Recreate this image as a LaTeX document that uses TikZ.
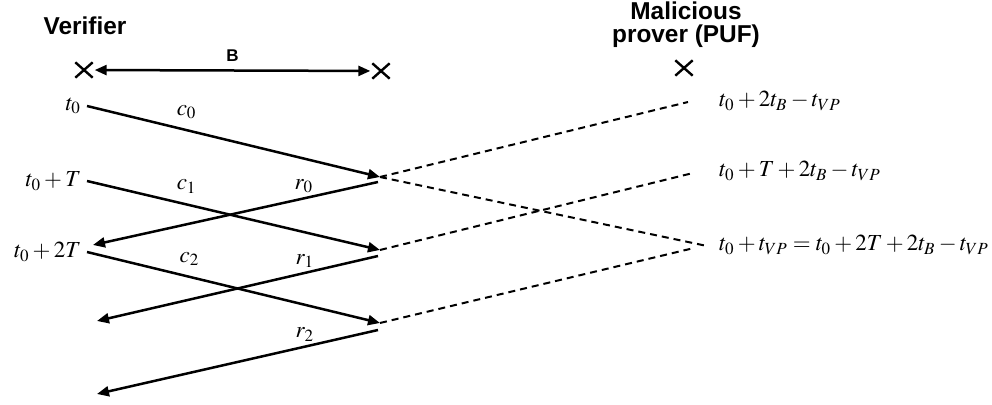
\documentclass[tikz,border=0pt]{standalone}
\usepackage{mathptmx}
\usepackage{fontspec}
\setsansfont{Liberation Sans}
\usetikzlibrary{arrows.meta,shapes.misc}

\begin{document}
\begin{tikzpicture}[x=0.5pt,y=-0.5pt,-{Triangle[length=6pt,width=5pt]},line width=1.25pt,
    time node/.style={font=\fontsize{11.5}{13}\selectfont,inner sep=0pt},
    head node/.style={font=\fontsize{12.2}{11.5}\selectfont\sffamily\bfseries,align=center,inner sep=0pt},
    mark node/.style={-,draw,cross out,line width=1.2pt,minimum width=7.5pt,minimum height=6.5pt,inner sep=0pt},
    lab/.style={font=\fontsize{11.5}{13}\selectfont,inner sep=0pt},
    guess/.style={-,line width=1pt,dash pattern=on 3.5pt off 2.5pt}]
	\useasboundingbox (0,0) rectangle (992,405);

	% parties
	\node[head node] (ver) at (85,26) {Verifier};
	\node[head node] (mal) at (686,25) {Malicious\\prover (PUF)};
	\node[mark node] (va) at (84,70) {};
	\node[mark node] (vb) at (381,71) {};
	\node[mark node] (pa) at (684,68) {};

	% time stamps on the verifier side
	\node[time node,anchor=east,outer sep=3pt] (t0) at (87,106) {$t_0$};
	\node[time node,anchor=east,outer sep=3pt] (t1) at (87,181) {$t_0+T$};
	\node[time node,anchor=east,outer sep=3pt] (t2) at (87,252) {$t_0+2T$};

	% time stamps on the prover side
	\node[time node,anchor=west] (p0) at (718,101) {$t_0+2t_B-t_{VP}$};
	\node[time node,anchor=west] (p1) at (718,171) {$t_0+T+2t_B-t_{VP}$};
	\node[time node,anchor=west] (p2) at (718,245) {$t_0+t_{VP}=t_0+2T+2t_B-t_{VP}$};

	\coordinate (a0) at (380,177);
	\coordinate (a1) at (380,250);
	\coordinate (a2) at (380,323);
	\coordinate (d0) at (378,182);
	\coordinate (d1) at (378,256);
	\coordinate (d2) at (378,330);
	\coordinate (e0) at (93,245);
	\coordinate (e1) at (97,321);
	\coordinate (e2) at (97,394);
	\coordinate (q0) at (688,102);
	\coordinate (q1) at (693,173);
	\coordinate (q2) at (707,246);
	\coordinate (q3) at (694,248);

	\path
	(va) edge [{Triangle[length=6pt,width=5pt]}-{Triangle[length=6pt,width=5pt]},shorten <=1pt,shorten >=1pt]
		node [above=4pt,inner sep=0pt,font=\fontsize{8.5}{9}\selectfont\sffamily\bfseries] {B} (vb)
	(t0.east) edge node [lab,pos=0.34,above=5pt] {$c_0$} (a0)
	(t1.east) edge node [lab,pos=0.34,above=5pt] {$c_1$} (a1)
	(t2.east) edge node [lab,pos=0.35,above=5pt] {$c_2$} (a2)
	(d0) edge node [lab,pos=0.26,above=2pt] {$r_0$} (e0)
	(d1) edge node [lab,pos=0.26,above=2pt] {$r_1$} (e1)
	(d2) edge node [lab,pos=0.26,above=2pt] {$r_2$} (e2)
	(a0) edge [guess] (q0)
	(a0) edge [guess] (q2)
	(a1) edge [guess] (q1)
	(a2) edge [guess] (q3)
;
\end{tikzpicture}
\end{document}
